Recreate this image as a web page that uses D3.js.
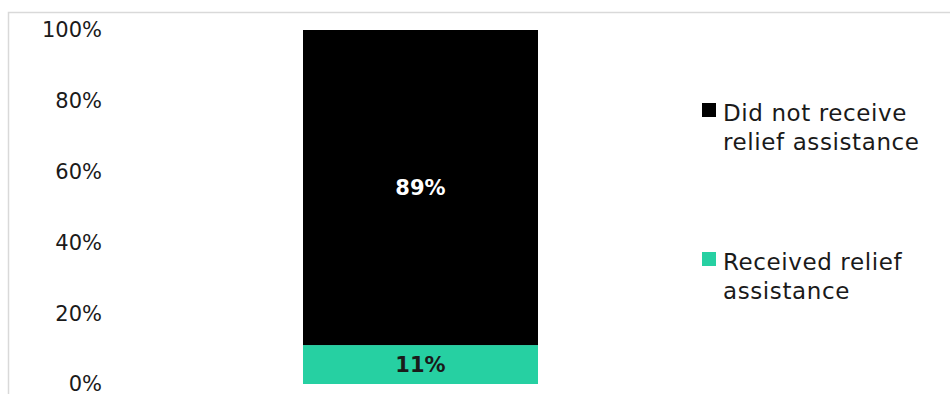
<!DOCTYPE html>
<html>
<head>
<meta charset="utf-8">
<script src="https://cdn.jsdelivr.net/npm/d3@7"></script>
<style>
  html, body { margin: 0; padding: 0; background: #fff; }
  svg { display: block; }
  text { font-family: "Century Gothic", "URW Gothic", "DejaVu Sans", sans-serif; }
</style>
</head>
<body>
<svg id="chart" width="950" height="394"></svg>
<script>
// Share of respondents by relief status (single stacked column)
const categories = ["All respondents"];
const seriesNames = ["Received relief assistance", "Did not receive relief assistance"];
const received = [11];
const notReceived = [89];
const yTicks = [0, 20, 40, 60, 80, 100];
const colors = ["#26d0a2", "#000000"];
const labelColors = ["#1a1a1a", "#ffffff"];

const svg = d3.select("#chart");

// outer chart frame (continues past the right and bottom edges)
svg.append("rect")
  .attr("x", 8.5).attr("y", 12.5)
  .attr("width", 1000).attr("height", 500)
  .attr("fill", "none")
  .attr("stroke", "#d9d9d9")
  .attr("stroke-width", 1.5);

const plot = { left: 185.5, right: 655.5, top: 30, bottom: 384 };

const x = d3.scaleBand()
  .domain(categories)
  .range([plot.left, plot.right])
  .paddingInner(0)
  .paddingOuter(0.5);

const y = d3.scaleLinear().domain([0, 100]).range([plot.bottom, plot.top]);

const rows = categories.map((c, i) => ({ cat: c, received: received[i], notReceived: notReceived[i] }));
const stack = d3.stack().keys(["received", "notReceived"])(rows);

// y axis labels only
const yAxis = d3.axisLeft(y).tickValues(yTicks).tickFormat(d => d + "%").tickSize(0).tickPadding(0);
const gy = svg.append("g").attr("transform", `translate(${102},0)`).call(yAxis);
gy.select(".domain").remove();
gy.selectAll("text")
  .attr("font-size", 21)
  .attr("fill", "#1a1a1a")
  .attr("dy", "0.33em")
  .style("font-family", "\"Century Gothic\", \"URW Gothic\", \"DejaVu Sans\", sans-serif");

// bar segments
const layers = svg.append("g").selectAll("g")
  .data(stack)
  .join("g")
  .attr("fill", (d, i) => colors[i]);

layers.selectAll("rect")
  .data(d => d)
  .join("rect")
  .attr("x", d => x(d.data.cat))
  .attr("width", x.bandwidth())
  .attr("y", d => y(d[1]))
  .attr("height", d => y(d[0]) - y(d[1]));

// value labels
stack.forEach((layer, i) => {
  svg.append("g").selectAll("text")
    .data(layer)
    .join("text")
    .attr("x", d => x(d.data.cat) + x.bandwidth() / 2)
    .attr("y", d => y((d[0] + d[1]) / 2))
    .attr("dy", "0.36em")
    .attr("text-anchor", "middle")
    .attr("font-size", 21)
    .attr("font-weight", "bold")
    .attr("fill", labelColors[i])
    .text(d => (d[1] - d[0]) + "%");
});

// legend
const legendItems = [
  { color: colors[1], lines: ["Did not receive", "relief assistance"], top: 103 },
  { color: colors[0], lines: ["Received relief", "assistance"], top: 252 }
];
const lg = svg.append("g");
legendItems.forEach(item => {
  lg.append("rect")
    .attr("x", 702).attr("y", item.top)
    .attr("width", 14).attr("height", 14)
    .attr("fill", item.color);
  const t = lg.append("text")
    .attr("x", 723).attr("y", item.top + 18)
    .attr("font-size", 23)
    .attr("letter-spacing", 0.6)
    .attr("fill", "#1a1a1a");
  item.lines.forEach((ln, k) => {
    t.append("tspan").attr("x", 723).attr("dy", k === 0 ? 0 : 29).text(ln);
  });
});
</script>
</body>
</html>
